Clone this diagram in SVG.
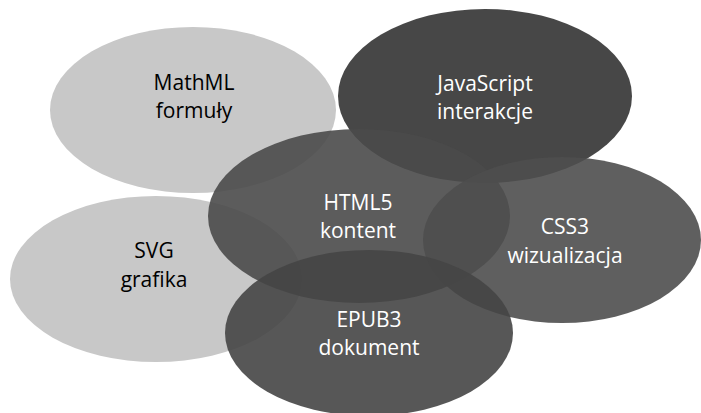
<svg xmlns="http://www.w3.org/2000/svg" width="701" height="413" viewBox="0 0 701 413">
<style>
.lt{font-family:"Open Sans","Liberation Sans",sans-serif;font-size:21px;text-anchor:middle;fill:#000}
.dk{font-family:"Open Sans","Liberation Sans",sans-serif;font-size:21px;text-anchor:middle;fill:#fff}
.light{fill:#c8c8c8}
.dark{fill-opacity:0.9}
</style>
<rect width="701" height="413" fill="#fff"/>
<g id="mathml">
<ellipse class="light" cx="193" cy="110" rx="143" ry="83"/>
<text class="lt" x="194" y="90">MathML</text>
<text class="lt" x="194" y="118">formuły</text>
</g>
<g id="svg">
<ellipse class="light" cx="156" cy="279" rx="146" ry="83"/>
<text class="lt" x="154" y="258">SVG</text>
<text class="lt" x="154" y="287">grafika</text>
</g>
<g id="javascript">
<ellipse class="dark" fill="#333333" cx="485" cy="96" rx="147" ry="87"/>
</g>
<g id="html5">
<ellipse class="dark" fill="#4a4a4a" cx="359" cy="216" rx="151" ry="87"/>
</g>
<g id="css3">
<ellipse class="dark" fill="#4e4e4e" cx="562" cy="240" rx="139" ry="83"/>
</g>
<g id="epub3">
<ellipse class="dark" fill="#454545" cx="369" cy="333" rx="144" ry="83"/>
</g>
<g id="labels">
<text class="dk" x="485" y="91">JavaScript</text>
<text class="dk" x="485" y="119">interakcje</text>
<text class="dk" x="358" y="210">HTML5</text>
<text class="dk" x="358" y="238">kontent</text>
<text class="dk" x="565" y="234">CSS3</text>
<text class="dk" x="565" y="263">wizualizacja</text>
<text class="dk" x="369" y="327">EPUB3</text>
<text class="dk" x="369" y="355">dokument</text>
</g>
<g id="connectors"/>
</svg>
